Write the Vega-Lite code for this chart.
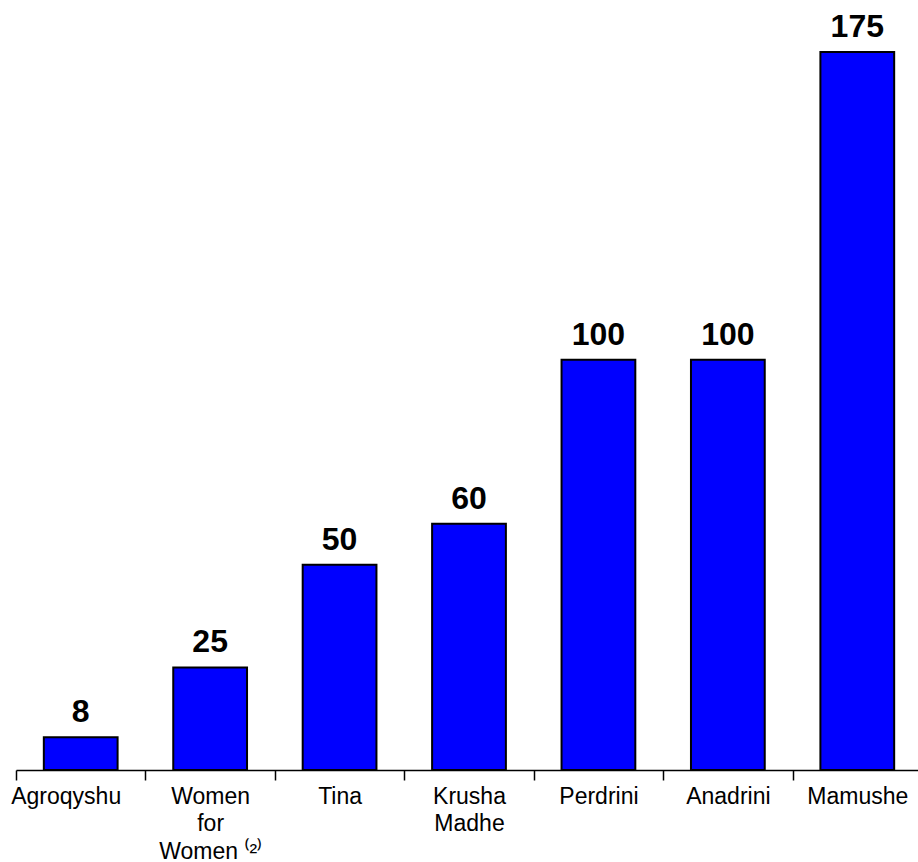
{
  "$schema": "https://vega.github.io/schema/vega-lite/v6.json",
  "width": 906,
  "height": 718,
  "autosize": {"type": "none"},
  "padding": {"left": 16, "top": 52, "right": -4, "bottom": 92},
  "background": "white",
  "config": {"view": {"stroke": null}, "font": "Liberation Sans"},
  "data": {
    "values": [
      {"name": "Agroqyshu", "value": 8},
      {"name": "Women|for|Women ⁽²⁾", "value": 25},
      {"name": "Tina", "value": 50},
      {"name": "Krusha|Madhe", "value": 60},
      {"name": "Perdrini", "value": 100},
      {"name": "Anadrini", "value": 100},
      {"name": "Mamushe", "value": 175}
    ]
  },
  "encoding": {
    "x": {
      "field": "name",
      "type": "nominal",
      "sort": null,
      "scale": {"paddingInner": 0, "paddingOuter": 0},
      "axis": {
        "title": null,
        "labelAngle": 0,
        "labelExpr": "split(datum.label, '|')",
        "labelFont": "Liberation Sans",
        "labelFontSize": 23,
        "labelColor": "black",
        "labelLineHeight": 27.5,
        "labelPadding": 5,
        "labelOffset": {"condition": {"test": "datum.index === 0", "value": -15}, "value": 0},
        "tickBand": "extent",
        "tickSize": 10,
        "tickColor": "black",
        "tickWidth": 1.5,
        "domainColor": "black",
        "domainWidth": 1.5,
        "labelLimit": 0
      }
    },
    "y": {
      "field": "value",
      "type": "quantitative",
      "scale": {"domain": [0, 175], "nice": false},
      "axis": null
    }
  },
  "layer": [
    {
      "mark": {"type": "bar", "color": "#0000FF", "stroke": "black", "strokeWidth": 2, "width": {"band": 0.57}}
    },
    {
      "mark": {"type": "text", "baseline": "alphabetic", "dy": -15, "fontSize": 32, "fontWeight": "bold", "font": "Liberation Sans", "color": "black"},
      "encoding": {"text": {"field": "value", "type": "quantitative"}}
    }
  ]
}
